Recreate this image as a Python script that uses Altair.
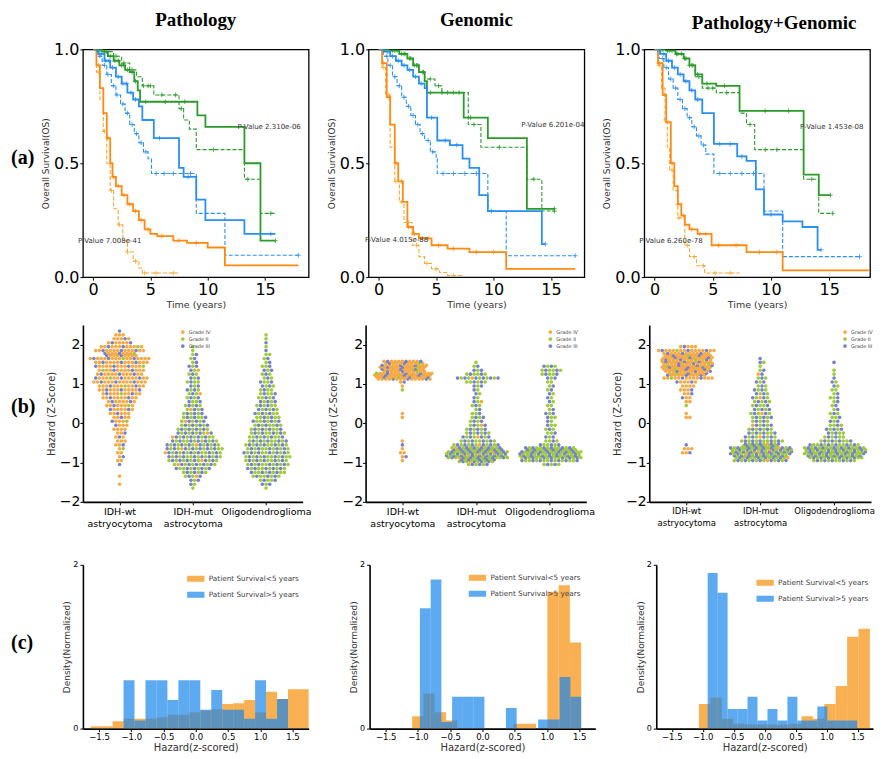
import math
import altair as alt
import pandas as pd

# ---------------- colours ----------------
C_ORANGE = "#ff8a12"
C_ORANGE_D = "#f6a834"
C_BLUE = "#2a8ff2"
C_GREEN = "#2b9b2b"
H_ORANGE = "#f58e08"
H_BLUE = "#1a86ea"
GRADES = ["Grade IV", "Grade II", "Grade III"]
GRADE_COLORS = ["#f6aa46", "#9fcb3c", "#7582cc"]
COL_TITLES = ["Pathology", "Genomic", "Pathology+Genomic"]
ROW_LABELS = ["(a)", "(b)", "(c)"]
CATS = [["IDH-wt", "astryocytoma"], ["IDH-mut", "astrocytoma"], ["Oligodendroglioma"]]
HIST_LEG = ["Patient Survival<5 years", "Patient Survival>5 years"]

# ---------------- (a) Kaplan-Meier curves: step times (years) and survival ----------------
# Pathology
P1_GS_T = [0, 0.8, 1.3, 1.8, 2.3, 2.8, 3.2, 3.6, 3.9, 4.1, 9.1, 9.8, 13.2, 14.6, 15.9]
P1_GS_S = [1.0, 0.99, 0.97, 0.95, 0.93, 0.91, 0.90, 0.86, 0.82, 0.77, 0.71, 0.66, 0.50, 0.16, 0.16]
P1_GD_T = [0, 1.0, 1.8, 2.5, 3.2, 3.8, 4.3, 5.3, 7.5, 7.9, 8.4, 9.0, 13.2, 14.6, 15.9]
P1_GD_S = [1.0, 0.99, 0.97, 0.94, 0.91, 0.88, 0.84, 0.80, 0.74, 0.69, 0.65, 0.56, 0.43, 0.28, 0.28]
P1_BS_T = [0, 0.5, 1.0, 1.5, 2.0, 2.5, 3.0, 3.5, 4.0, 4.3, 5.3, 7.5, 7.9, 9.0, 9.8, 13.2, 15.9]
P1_BS_S = [1.0, 0.98, 0.95, 0.92, 0.88, 0.85, 0.81, 0.78, 0.75, 0.69, 0.61, 0.48, 0.44, 0.34, 0.25, 0.19, 0.19]
P1_BD_T = [0, 0.4, 0.8, 1.2, 1.6, 2.0, 2.4, 2.8, 3.2, 3.6, 4.0, 4.4, 4.8, 5.1, 9.0, 11.5, 17.9]
P1_BD_S = [1.0, 0.97, 0.93, 0.89, 0.84, 0.80, 0.76, 0.72, 0.67, 0.63, 0.59, 0.55, 0.52, 0.455, 0.28, 0.096, 0.096]
P1_OS_T = [0, 0.3, 0.6, 0.9, 1.2, 1.5, 1.7, 2.0, 2.5, 3.0, 3.5, 4.0, 4.5, 5.0, 5.6, 7.0, 8.2, 10.0, 11.5, 17.9]
P1_OS_S = [1.0, 0.93, 0.83, 0.72, 0.61, 0.50, 0.44, 0.40, 0.36, 0.32, 0.29, 0.25, 0.21, 0.19, 0.18, 0.16, 0.15, 0.13, 0.052, 0.052]
P1_OD_T = [0, 0.3, 0.6, 0.9, 1.2, 1.5, 1.8, 2.2, 2.6, 3.0, 3.5, 4.0, 4.3, 7.4]
P1_OD_S = [1.0, 0.90, 0.78, 0.64, 0.50, 0.38, 0.30, 0.23, 0.16, 0.11, 0.07, 0.04, 0.018, 0.018]
P1_GS_C = [0.4, 0.7, 1.0, 1.5, 1.9, 2.2, 2.5, 2.7, 3.0, 3.4, 3.7, 4.6, 6.3, 8.0, 15.9]
P1_GD_C = [0.6, 1.2, 2.0, 2.7, 3.4, 4.4, 4.8, 5.0, 6.0, 7.2, 7.7, 10.5, 13.5, 15.5]
P1_BS_C = [0.3, 0.7, 1.1, 1.4, 1.7, 2.2, 2.6, 2.9, 3.3, 3.7, 5.8, 8.3, 15.5]
P1_BD_C = [0.3, 0.6, 1.0, 1.3, 1.8, 2.1, 2.6, 3.0, 3.4, 3.8, 4.2, 4.6, 5.5, 6.2, 7.0, 8.5, 17.9]
P1_OS_C = [0.5, 1.3, 1.8, 2.2, 2.7, 3.2, 3.7, 4.2, 4.8, 6.0, 7.5, 9.0]
P1_OD_C = [0.5, 1.0, 1.6, 2.3, 3.0, 3.7, 4.5, 5.5, 7.0]
# Genomic
P2_GS_T = [0, 1.0, 1.8, 2.5, 3.0, 3.5, 4.0, 4.2, 7.4, 9.5, 12.9, 15.3]
P2_GS_S = [1.0, 0.995, 0.98, 0.96, 0.93, 0.90, 0.86, 0.81, 0.70, 0.61, 0.30, 0.30]
P2_GD_T = [0, 1.0, 1.8, 2.5, 3.0, 3.5, 4.0, 4.9, 5.5, 7.8, 8.9, 12.9, 14.2, 15.3]
P2_GD_S = [1.0, 0.995, 0.98, 0.96, 0.93, 0.90, 0.87, 0.84, 0.81, 0.67, 0.57, 0.43, 0.29, 0.29]
P2_BS_T = [0, 0.5, 1.0, 1.5, 2.0, 2.5, 3.0, 3.5, 4.0, 4.2, 5.1, 6.2, 7.3, 7.9, 8.75, 9.5, 14.2, 14.5]
P2_BS_S = [1.0, 0.99, 0.97, 0.95, 0.93, 0.91, 0.88, 0.85, 0.83, 0.70, 0.60, 0.58, 0.52, 0.48, 0.36, 0.29, 0.145, 0.145]
P2_BD_T = [0, 0.4, 0.8, 1.2, 1.6, 2.0, 2.4, 2.8, 3.2, 3.6, 4.0, 4.5, 5.0, 5.1, 9.5, 11.1, 17.1]
P2_BD_S = [1.0, 0.97, 0.93, 0.88, 0.84, 0.79, 0.75, 0.71, 0.67, 0.63, 0.60, 0.55, 0.52, 0.455, 0.29, 0.094, 0.094]
P2_OS_T = [0, 0.3, 0.7, 1.0, 1.4, 1.7, 2.1, 2.5, 3.0, 3.5, 4.6, 6.0, 7.9, 11.1, 17.1]
P2_OS_S = [1.0, 0.94, 0.79, 0.67, 0.50, 0.42, 0.33, 0.22, 0.19, 0.17, 0.14, 0.125, 0.11, 0.036, 0.036]
P2_OD_T = [0, 0.3, 0.6, 1.0, 1.4, 1.8, 2.2, 2.9, 3.5, 4.0, 4.6, 5.3, 6.0, 7.4]
P2_OD_S = [1.0, 0.92, 0.80, 0.57, 0.42, 0.33, 0.24, 0.14, 0.09, 0.06, 0.036, 0.02, 0.007, 0.007]
P2_GS_C = [0.5, 1.2, 1.6, 2.0, 2.3, 2.7, 3.1, 3.4, 3.8, 4.5, 5.5, 6.5, 8.0, 15.3]
P2_GD_C = [0.7, 1.4, 2.2, 2.8, 3.3, 3.9, 4.5, 5.2, 6.0, 7.0, 8.3, 10.5, 13.5, 15.3]
P2_BS_C = [0.4, 0.8, 1.2, 1.7, 2.2, 2.7, 3.2, 3.7, 4.6, 5.8, 6.8, 9.8, 14.5]
P2_BD_C = [0.3, 0.7, 1.0, 1.4, 1.8, 2.2, 2.6, 3.0, 3.4, 3.8, 4.3, 4.7, 5.6, 6.5, 7.5, 8.5, 17.1]
P2_OS_C = [0.4, 0.9, 1.5, 2.0, 2.6, 3.1, 3.8, 4.3, 5.2, 6.5, 8.5, 10.0]
P2_OD_C = [0.4, 0.9, 1.5, 2.0, 2.6, 3.3, 4.2, 5.0, 6.5]
# Pathology+Genomic
P3_GS_T = [0, 1.0, 1.8, 2.5, 3.0, 3.5, 4.1, 5.3, 7.3, 12.8, 14.1, 15.1]
P3_GS_S = [1.0, 0.995, 0.98, 0.96, 0.93, 0.89, 0.85, 0.84, 0.73, 0.45, 0.36, 0.36]
P3_GD_T = [0, 1.0, 1.8, 2.5, 3.0, 3.5, 4.1, 5.3, 7.3, 7.9, 8.6, 12.8, 14.1, 15.3]
P3_GD_S = [1.0, 0.995, 0.98, 0.96, 0.93, 0.88, 0.83, 0.81, 0.72, 0.67, 0.56, 0.43, 0.28, 0.28]
P3_BS_T = [0, 0.5, 1.0, 1.5, 2.0, 2.5, 3.0, 3.5, 4.1, 5.1, 7.1, 7.9, 8.7, 9.4, 11.0, 12.7, 14.0, 14.3]
P3_BS_S = [1.0, 0.98, 0.95, 0.92, 0.89, 0.86, 0.82, 0.78, 0.72, 0.585, 0.53, 0.51, 0.385, 0.275, 0.245, 0.22, 0.12, 0.12]
P3_BD_T = [0, 0.4, 0.8, 1.2, 1.6, 2.0, 2.4, 2.8, 3.2, 3.6, 4.0, 4.4, 5.1, 9.4, 11.0, 17.6]
P3_BD_S = [1.0, 0.96, 0.92, 0.87, 0.83, 0.78, 0.74, 0.70, 0.66, 0.62, 0.58, 0.54, 0.455, 0.29, 0.09, 0.09]
P3_OS_T = [0, 0.3, 0.7, 1.0, 1.4, 1.7, 2.0, 2.3, 2.6, 3.0, 3.7, 4.9, 7.9, 11.0, 18.4]
P3_OS_S = [1.0, 0.94, 0.80, 0.68, 0.50, 0.40, 0.32, 0.27, 0.23, 0.21, 0.19, 0.14, 0.11, 0.03, 0.03]
P3_OD_T = [0, 0.3, 0.6, 0.9, 1.1, 1.3, 1.6, 2.0, 2.6, 3.0, 3.6, 4.3, 7.3]
P3_OD_S = [1.0, 0.93, 0.83, 0.69, 0.57, 0.47, 0.38, 0.26, 0.14, 0.09, 0.05, 0.018, 0.018]
P3_GS_C = [0.5, 1.1, 1.5, 1.9, 2.3, 2.6, 3.0, 3.3, 3.7, 4.5, 6.0, 9.5, 11.5, 15.1]
P3_GD_C = [0.7, 1.3, 2.0, 2.7, 3.2, 3.8, 4.6, 5.0, 6.2, 8.2, 9.5, 10.5, 13.5, 15.3]
P3_BS_C = [0.4, 0.8, 1.2, 1.7, 2.2, 2.7, 3.2, 3.7, 5.6, 6.5, 7.5, 10.0, 14.3]
P3_BD_C = [0.3, 0.7, 1.0, 1.4, 1.8, 2.2, 2.6, 3.0, 3.4, 3.8, 4.2, 5.6, 6.5, 7.5, 8.5, 17.6]
P3_OS_C = [0.4, 0.9, 1.5, 2.0, 2.5, 3.2, 3.9, 4.4, 5.5, 7.0, 9.0, 10.5]
P3_OD_C = [0.4, 0.9, 1.5, 2.1, 2.8, 3.4, 4.2, 5.2, 6.5]

P_TEXT = [["P-Value 2.310e-06", "P-Value 7.008e-41"],
          ["P-Value 6.201e-04", "P-Value 4.015e-88"],
          ["P-Value 1.453e-08", "P-Value 6.260e-78"]]
P_TEXT_T = [[12.6, -1.3], [12.4, -1.2], [12.5, -1.3]]
P_TEXT_S = [[0.66, 0.16], [0.67, 0.165], [0.66, 0.16]]
KM_XMAX = [18.8, 17.9, 18.5]

# ---------------- (b) swarm: points per 0.1 hazard bin, bins start at -2.0 ----------------
SW_START = -2.0
SW_STEP = 0.1
P1_WT = [0, 0, 0, 0, 1, 0, 1, 0, 0, 1, 2, 2, 2, 2, 3, 3, 3, 3, 4, 4, 5, 5, 6, 7, 8, 8, 10, 11, 12, 13,
         15, 15, 13, 13, 14, 15, 17, 18, 14, 12, 7, 5, 3, 1, 0]
P1_MUT = [0, 0, 0, 1, 2, 3, 5, 7, 10, 12, 14, 15, 16, 16, 15, 13, 12, 10, 9, 8, 7, 7, 6, 5, 5, 4, 4, 4, 4, 3,
          4, 3, 3, 3, 3, 2, 2, 2, 1, 1, 0, 0, 0, 0, 0]
P1_OLI = [0, 0, 0, 1, 3, 5, 8, 10, 11, 12, 12, 13, 13, 12, 12, 11, 10, 10, 9, 8, 8, 7, 7, 6, 6, 5, 5, 5, 4, 4,
          4, 3, 3, 3, 3, 2, 2, 2, 1, 1, 1, 1, 1, 0, 0]
P2_WT = [0, 0, 0, 0, 0, 0, 0, 0, 0, 0, 1, 2, 2, 1, 1, 1, 0, 0, 0, 0, 0, 1, 1, 0, 0, 0, 0, 0, 1, 1,
         2, 30, 32, 24, 26, 22, 0, 0, 0, 0, 0, 0, 0, 0, 0]
P2_MUT = [0, 0, 0, 0, 0, 0, 0, 0, 0, 6, 20, 34, 34, 28, 13, 10, 8, 7, 6, 5, 4, 4, 3, 2, 3, 3, 2, 2, 2, 3,
          6, 12, 6, 3, 2, 1, 0, 0, 0, 0, 0, 0, 0, 0, 0]
P2_OLI = [0, 0, 0, 0, 0, 0, 0, 0, 0, 5, 16, 34, 34, 28, 6, 4, 3, 3, 3, 3, 2, 3, 3, 2, 2, 2, 2, 2, 2, 2,
          2, 3, 5, 6, 4, 0, 0, 0, 0, 0, 0, 0, 0, 0, 0]
P3_WT = [0, 0, 0, 0, 0, 0, 0, 0, 0, 0, 0, 0, 3, 3, 1, 0, 0, 0, 0, 0, 0, 2, 1, 0, 1, 2, 3, 3, 4, 4,
         6, 14, 22, 26, 28, 28, 28, 26, 16, 5, 0, 0, 0, 0, 0]
P3_MUT = [0, 0, 0, 0, 0, 0, 0, 0, 0, 0, 15, 30, 34, 34, 20, 12, 9, 8, 7, 6, 5, 6, 6, 5, 5, 5, 5, 4, 4, 3,
          3, 3, 2, 2, 1, 2, 1, 0, 0, 0, 0, 0, 0, 0, 0]
P3_OLI = [0, 0, 0, 0, 0, 0, 0, 0, 0, 0, 12, 30, 34, 34, 14, 9, 6, 5, 5, 4, 3, 3, 3, 2, 2, 2, 3, 2, 2, 2,
          2, 1, 1, 1, 0, 1, 0, 0, 0, 0, 0, 0, 0, 0, 0]
# share of Grade IV / Grade II / Grade III in each tumour type
WT_MIX = [0.76, 0.04, 0.20]
MUT_MIX = [0.05, 0.50, 0.45]
OLI_MIX = [0.0, 0.58, 0.42]

# ---------------- (c) histograms: bin start, bin width, density heights ----------------
H1_O_START, H1_O_W = -1.63, 0.17
H1_O = [0.03, 0.03, 0.09, 0.12, 0.12, 0.12, 0.14, 0.17, 0.17, 0.20, 0.22, 0.24, 0.30, 0.31, 0.35, 0.20, 0.45, 0.36, 0.48, 0.48]
H1_B_START, H1_B_W = -1.12, 0.17
H1_B = [0.59, 0.10, 0.59, 0.59, 0.35, 0.59, 0.59, 0.23, 0.47, 0.23, 0.23, 0.12, 0.59, 0.12, 0.36]
H2_O_START, H2_O_W = -1.09, 0.1747
H2_O = [0.15, 0.43, 0.20, 0.10, 0, 0, 0, 0, 0, 0.06, 0.06, 0, 1.67, 1.75, 1.05]
H2_B_START, H2_B_W = -0.97, 0.1667
H2_B = [1.47, 1.82, 0.08, 0.39, 0.39, 0.39, 0, 0, 0.25, 0, 0, 0.11, 0.11, 0.63, 0.39]
H3_O_START, H3_O_W = -1.06, 0.184
H3_O = [0.30, 0.38, 0.12, 0.06, 0.05, 0.05, 0.05, 0.05, 0.06, 0.15, 0.12, 0.30, 0.52, 1.12, 1.22]
H3_B_START, H3_B_W = -0.92, 0.161
H3_B = [1.90, 1.66, 0.24, 0.24, 0.39, 0.10, 0.24, 0.10, 0.39, 0.10, 0.10, 0.27, 0.10, 0.10, 0.10]

# ---------------- layout ----------------
ROW_A_W = [226, 216, 226]
ROW_B_W = [220, 221, 222]
ROW_C_W = [226, 226, 217]
H_A, H_B, H_C = 228, 177, 164

SERIF = "Liberation Serif"
SANS = "DejaVu Sans"


def row_label(text, ypix):
    return alt.Chart(pd.DataFrame({"label": [text]})).mark_text(
        font=SERIF, fontSize=20, fontWeight="bold", color="black", align="left", baseline="middle"
    ).encode(x=alt.value(-72), y=alt.value(ypix), text="label:N")


def step_value(T, S, t):
    v = S[0]
    for ti, si in zip(T, S):
        if ti <= t:
            v = si
        else:
            break
    return v


def km_panel(idx, curves, w):
    lines, cens = [], []
    for key, T, S, C, color, dashed in curves:
        for t, s in zip(T, S):
            lines.append({"curve": key, "t": t, "s": s, "color": color, "dashed": dashed})
        for c in C:
            cens.append({"curve": key, "t": c, "s": step_value(T, S, c), "color": color})
    ldf = pd.DataFrame(lines)
    cdf = pd.DataFrame(cens)
    tdf = pd.DataFrame({"t": P_TEXT_T[idx], "s": P_TEXT_S[idx], "label": P_TEXT[idx]})
    x = alt.X("t:Q", scale=alt.Scale(domain=[-0.88, KM_XMAX[idx]], nice=False, zero=False),
              axis=alt.Axis(values=[0, 5, 10, 15], title="Time (years)", labelFontSize=16,
                            titleFontSize=9.5, titlePadding=2, tickSize=3, domain=False, labelPadding=1))
    y = alt.Y("s:Q", scale=alt.Scale(domain=[0, 1], nice=False),
              axis=alt.Axis(values=[0, 0.5, 1], format=".1f", title="Overall Survival(OS)", labelFontSize=16,
                            titleFontSize=9, titlePadding=3, tickSize=3, domain=False, labelPadding=1))
    col = alt.Color("color:N", scale=None)
    base = alt.Chart(ldf)
    dashed = base.transform_filter("datum.dashed").mark_line(
        interpolate="step-after", strokeWidth=1.1, strokeDash=[4, 2], clip=True
    ).encode(x=x, y=y, color=col, detail="curve:N")
    solid = base.transform_filter("!datum.dashed").mark_line(
        interpolate="step-after", strokeWidth=1.8, clip=True
    ).encode(x="t:Q", y="s:Q", color=col, detail="curve:N")
    marks = alt.Chart(cdf).mark_point(
        shape="M-1,0L1,0M0,-1L0,1", size=22, strokeWidth=0.9, filled=False, opacity=0.9, clip=True
    ).encode(x="t:Q", y="s:Q", color=col)
    txt = alt.Chart(tdf).mark_text(align="left", baseline="middle", fontSize=7, color="#333", font=SANS).encode(
        x="t:Q", y="s:Q", text="label:N")
    layers = [dashed, solid, marks, txt]
    if idx == 0:
        layers.append(row_label(ROW_LABELS[0], 109))
    tdx = 17 if idx == 2 else 0
    toff = 8 if idx == 2 else 11
    return alt.layer(*layers).properties(
        width=w, height=H_A,
        title=alt.TitleParams(COL_TITLES[idx], font=SERIF, fontSize=19, fontWeight="bold", color="black",
                              anchor="middle", offset=toff, dx=tdx),
        view=alt.ViewBackground(stroke="black", strokeWidth=1.3),
    )


def grade_sequence(mix, n):
    seq, cnt = [], [0] * len(mix)
    for k in range(n):
        best = max(range(len(mix)), key=lambda g: mix[g] * (k + 1) - cnt[g])
        cnt[best] += 1
        seq.append(GRADES[best])
    return seq


def swarm_points(cat_counts, mixes, maxw=17, dx=0.05):
    rows = []
    for ci, (counts, mix) in enumerate(zip(cat_counts, mixes)):
        seq = grade_sequence(mix, sum(counts))
        k = 0
        for i, n in enumerate(counts):
            if n == 0:
                continue
            nr = math.ceil(n / maxw)
            per = [n // nr + (1 if r < n % nr else 0) for r in range(nr)]
            lo = SW_START + i * SW_STEP
            for r, m in enumerate(per):
                yv = lo + (r + 0.5) * SW_STEP / nr
                shift = 0.5 * dx * ((i + r) % 2) if m > 1 else 0
                for j in range(m):
                    rows.append({"x": ci + (j - (m - 1) / 2) * dx + shift, "y": yv, "grade": seq[k]})
                    k += 1
    return pd.DataFrame(rows)


def swarm_panel(df, w, lx, ly, lab_size, first):
    expr = ("datum.value == 0 ? ['%s','%s'] : (datum.value == 1 ? ['%s','%s'] : '%s')"
            % (CATS[0][0], CATS[0][1], CATS[1][0], CATS[1][1], CATS[2][0]))
    pts = alt.Chart(df).mark_circle(size=13, opacity=1).encode(
        x=alt.X("x:Q", scale=alt.Scale(domain=[-0.5, 2.5], nice=False, zero=False),
                axis=alt.Axis(values=[0, 1, 2], labelExpr=expr, title=None, labelFontSize=lab_size,
                              labelLineHeight=12, tickSize=3, domainWidth=1.6, labelPadding=2,
                              labelOverlap=False)),
        y=alt.Y("y:Q", scale=alt.Scale(domain=[-2, 2.5], nice=False, zero=False),
                axis=alt.Axis(values=[-2, -1, 0, 1, 2], format="d", title="Hazard (Z-Score)", labelFontSize=14,
                              titleFontSize=10, titlePadding=3, tickSize=3, domainWidth=1.6, labelPadding=0)),
        color=alt.Color("grade:N", scale=alt.Scale(domain=GRADES, range=GRADE_COLORS),
                        legend=alt.Legend(orient="none", legendX=lx, legendY=ly, title=None, labelFontSize=5,
                                          labelColor="#444", symbolSize=14, rowPadding=1, labelOffset=3,
                                          padding=0, symbolType="circle")),
    )
    layers = [pts]
    if first:
        layers.append(row_label(ROW_LABELS[1], 82))
    return alt.layer(*layers).properties(width=w, height=H_B)


def hist_panel(o_start, o_w, o_h, b_start, b_w, b_h, w, lx, ly, first):
    rows = []
    for start, width, heights, grp in [(o_start, o_w, o_h, HIST_LEG[0]), (b_start, b_w, b_h, HIST_LEG[1])]:
        for k, v in enumerate(heights):
            if v > 0:
                rows.append({"lo": start + k * width, "hi": start + (k + 1) * width, "h": v, "zero": 0, "group": grp})
    df = pd.DataFrame(rows)
    bars = alt.Chart(df).mark_rect(opacity=0.7, clip=True).encode(
        x=alt.X("lo:Q", scale=alt.Scale(domain=[-1.75, 1.75], nice=False, zero=False),
                axis=alt.Axis(values=[-1.5, -1, -0.5, 0, 0.5, 1, 1.5], format=".1f", title="Hazard(z-scored)",
                              labelFontSize=8.5, titleFontSize=10, titlePadding=1, tickSize=3, domainWidth=1.6,
                              labelPadding=1)),
        x2="hi:Q",
        y=alt.Y("h:Q", scale=alt.Scale(domain=[0, 2], nice=False),
                axis=alt.Axis(values=[0, 1, 2], format="d", title="Density(Normalized)", labelFontSize=8,
                              titleFontSize=9, titlePadding=1, tickSize=3, domainWidth=1.6, labelPadding=2)),
        y2="zero:Q",
        color=alt.Color("group:N", scale=alt.Scale(domain=HIST_LEG, range=[H_ORANGE, H_BLUE]),
                        legend=alt.Legend(orient="none", legendX=lx, legendY=ly, title=None, labelFontSize=7.3,
                                          labelColor="#444", symbolType="M-1,-0.35H1V0.35H-1Z", symbolSize=300,
                                          symbolOpacity=0.7, symbolStrokeWidth=0, rowPadding=3, labelOffset=4,
                                          padding=0)),
    )
    layers = [bars]
    if first:
        layers.append(row_label(ROW_LABELS[2], 78))
    return alt.layer(*layers).properties(width=w, height=H_C, title=alt.TitleParams(" ", fontSize=12, offset=4))


def curves_for(p):
    g = globals()
    spec = [("GD", C_GREEN, True), ("BD", C_BLUE, True), ("OD", C_ORANGE_D, True),
            ("GS", C_GREEN, False), ("BS", C_BLUE, False), ("OS", C_ORANGE, False)]
    return [(k, g[f"P{p}_{k}_T"], g[f"P{p}_{k}_S"], g[f"P{p}_{k}_C"], c, d) for k, c, d in spec]


km = [km_panel(i, curves_for(i + 1), ROW_A_W[i]) for i in range(3)]
mixes = [WT_MIX, MUT_MIX, OLI_MIX]
sw = [
    swarm_panel(swarm_points([P1_WT, P1_MUT, P1_OLI], mixes), ROW_B_W[0], 97, 4, 9.5, True),
    swarm_panel(swarm_points([P2_WT, P2_MUT, P2_OLI], mixes), ROW_B_W[1], 182, 4, 9.5, False),
    swarm_panel(swarm_points([P3_WT, P3_MUT, P3_OLI], mixes), ROW_B_W[2], 193, 4, 8.5, False),
]
hs = [
    hist_panel(H1_O_START, H1_O_W, H1_O, H1_B_START, H1_B_W, H1_B, ROW_C_W[0], 104, 5, True),
    hist_panel(H2_O_START, H2_O_W, H2_O, H2_B_START, H2_B_W, H2_B, ROW_C_W[1], 99, 4, False),
    hist_panel(H3_O_START, H3_O_W, H3_O, H3_B_START, H3_B_W, H3_B, ROW_C_W[2], 100, 9, False),
]

row_a = alt.hconcat(*km, spacing=16)
row_b = alt.hconcat(*sw, spacing=17).resolve_scale(color="independent").resolve_legend(color="independent")
row_c = alt.hconcat(*hs, spacing=40).resolve_scale(color="independent").resolve_legend(color="independent")

chart = alt.vconcat(row_a, row_b, row_c, spacing=15).resolve_scale(
    color="independent").resolve_legend(color="independent").configure(
    font=SANS, padding={"left": 2, "top": 2, "right": 0, "bottom": 0}
).configure_view(stroke=None).configure_axis(
    grid=False, labelFont=SANS, titleFont=SANS, domainColor="black", tickColor="black",
    labelColor="black", titleColor="#333", titleFontWeight="normal"
)

chart.save("out.html", embed_options={"renderer": "svg", "actions": False})
